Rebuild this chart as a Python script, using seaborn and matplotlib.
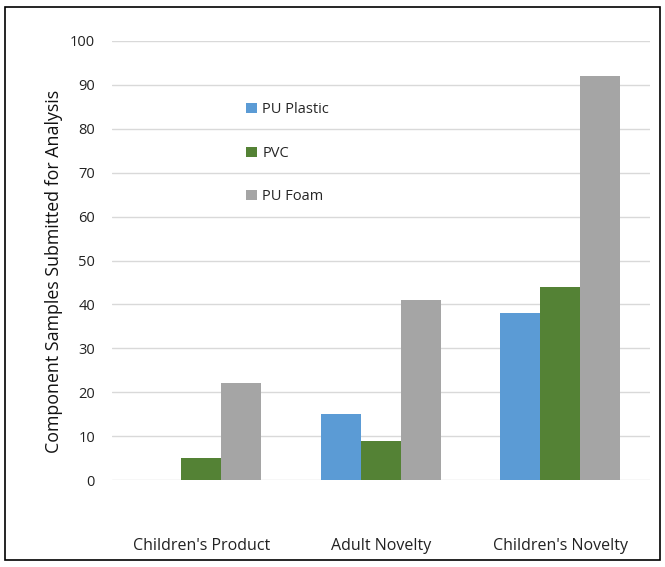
import matplotlib
matplotlib.use("Agg")
import matplotlib.pyplot as plt
import seaborn as sns
import pandas as pd
from matplotlib.patches import Rectangle

categories = ["Children's Product", "Adult Novelty", "Children's Novelty"]
series = ["PU Plastic", "PVC", "PU Foam"]
pu_plastic = [0, 15, 38]
pvc = [5, 9, 44]
pu_foam = [22, 41, 92]
y_ticks = [0, 10, 20, 30, 40, 50, 60, 70, 80, 90, 100]

colors = ["#5B9BD5", "#548235", "#A5A5A5"]

rows = []
for s, vals in zip(series, [pu_plastic, pvc, pu_foam]):
    for c, v in zip(categories, vals):
        rows.append({"Category": c, "Series": s, "Value": v})
df = pd.DataFrame(rows)

sns.set_style("white")
plt.rcParams['font.family'] = ['Open Sans', 'DejaVu Sans']

fig = plt.figure(figsize=(6.65, 5.67), dpi=100)
ax = fig.add_axes([0.168, 0.1534, 0.809, 0.7743])

sns.barplot(data=df, x="Category", y="Value", hue="Series", order=categories,
            hue_order=series, palette=colors, width=0.67, saturation=1,
            edgecolor="none", ax=ax)

ax.set_ylim(0, 100)
ax.set_yticks(y_ticks)
ax.set_yticklabels([str(t) for t in y_ticks], fontsize=10.5, color="#222222")
ax.set_xlim(-0.5, 2.5)
ax.grid(axis="y", color="#D9D9D9", linewidth=1)
ax.set_axisbelow(True)
for sp in ax.spines.values():
    sp.set_visible(False)
ax.tick_params(axis="both", length=0)
ax.tick_params(axis="x", pad=42, labelsize=11.5, labelcolor="#222222")
ax.tick_params(axis="y", pad=12)
ax.set_xlabel("")
ax.set_ylabel("Component Samples Submitted for Analysis", fontsize=12.8,
              color="#111111", fontweight="medium")
ax.yaxis.set_label_coords(-0.09, 0.475)

leg = ax.legend(loc="upper left", bbox_to_anchor=(0.226, 0.89), frameon=False,
                fontsize=10.5, handlelength=0.7, handleheight=0.7,
                handletextpad=0.4, labelspacing=1.95)

fig.add_artist(Rectangle((5 / 665, 7 / 567), 655 / 665, 553 / 567,
                         transform=fig.transFigure, fill=False,
                         edgecolor="black", linewidth=1.2))

fig.savefig("out.png", dpi=100)
